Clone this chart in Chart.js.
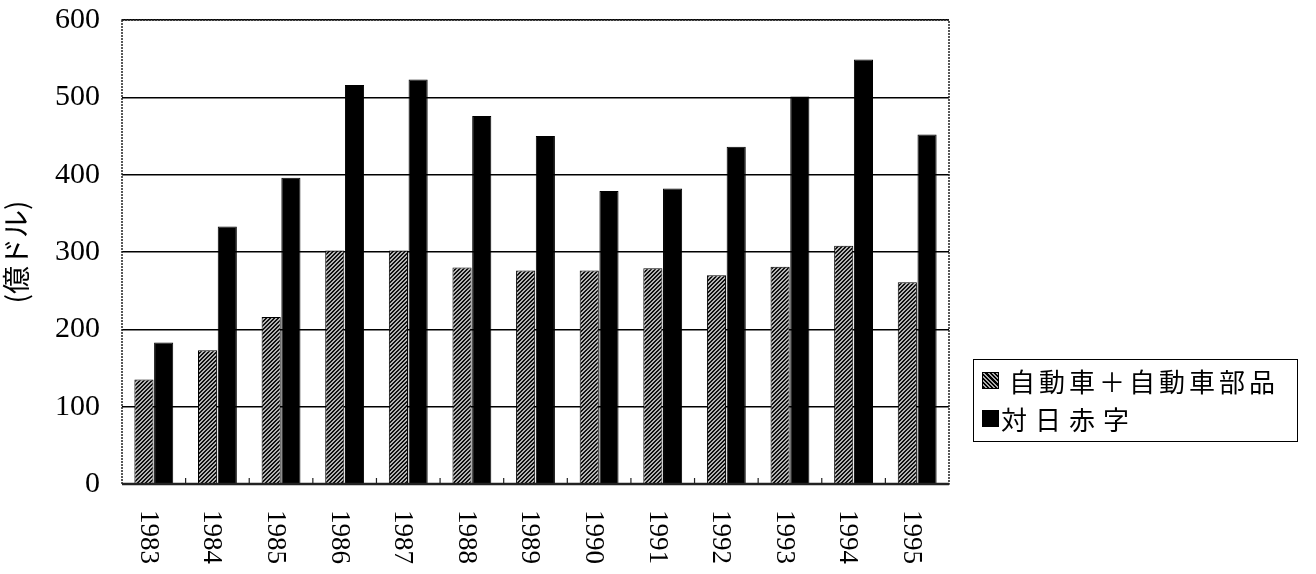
<!DOCTYPE html>
<html>
<head>
<meta charset="utf-8">
<script src="https://cdn.jsdelivr.net/npm/chart.js@4"></script>
<style>
    body { margin: 0; background: #fff; }
    #wrap { position: relative; width: 1316px; height: 574px; }
    #legendBox {
        position: absolute; left: 973px; top: 359px; width: 325px; height: 83px;
        border: 1px solid #000; box-sizing: border-box;
        font-family: "Noto Sans CJK JP", sans-serif; font-size: 26px; color: #000;
    }
    .row { position: absolute; left: 8px; display: flex; align-items: center; white-space: nowrap; }
    .sw { width: 15px; height: 15px; border: 1px solid #000; margin-right: 10px; letter-spacing: 0; }
    #sw0 { background: repeating-linear-gradient(45deg, #000 0 1.5px, #aaa 1.5px 3px); }
    #sw1 { background: #000; margin-right: 2px; }
</style>
</head>
<body>
<div id="wrap">
    <canvas id="myChart" width="1316" height="574"></canvas>
    <div id="legendBox"></div>
</div>
<script>
const years = ['1983', '1984', '1985', '1986', '1987', '1988', '1989',
    '1990', '1991', '1992', '1993', '1994', '1995'];
const carParts = [135, 173, 216, 302, 302, 280, 276, 276, 279, 270, 281, 308, 261];
const deficitJapan = [183, 333, 396, 516, 523, 476, 450, 379, 382, 436, 501, 549, 452];
const seriesNames = ['自動車＋自動車部品', '対日赤字'];
const yTicks = [0, 100, 200, 300, 400, 500, 600];
const yTitle = '(億ドル)';

// hatched fill for the grey bars
function makeHatch() {
    const c = document.createElement('canvas');
    c.width = 4; c.height = 4;
    const g = c.getContext('2d');
    g.fillStyle = '#b4b4b4';
    g.fillRect(0, 0, 4, 4);
    g.fillStyle = '#111';
    for (let i = 0; i < 4; i++) {
        g.fillRect(i, 3 - i, 1, 1);
        g.fillRect((i + 1) % 4, 3 - i, 1, 1);
    }
    return g.createPattern(c, 'repeat');
}

// legend
const legendBox = document.getElementById('legendBox');
seriesNames.forEach((name, i) => {
    const row = document.createElement('div');
    row.className = 'row';
    row.style.top = (i === 0 ? 2 : 40) + 'px';
    row.innerHTML = '<span class="sw" id="sw' + i + '"></span><span style="letter-spacing:' +
        (i === 0 ? 4 : 8) + 'px">' + name + '</span>';
    legendBox.appendChild(row);
});

// plot frame, inner x ticks and rotated year labels
const framePlugin = {
    id: 'frame',
    afterDraw(chart) {
        const ctx = chart.ctx;
        const a = chart.chartArea;
        const x = chart.scales.x;
        ctx.save();
        ctx.strokeStyle = '#222';
        ctx.lineWidth = 1.5;
        ctx.setLineDash([2, 1]);
        ctx.strokeRect(a.left, a.top, a.right - a.left, a.bottom - a.top);
        ctx.setLineDash([]);
        ctx.lineWidth = 2.5;
        ctx.beginPath();
        ctx.moveTo(a.left, a.bottom);
        ctx.lineTo(a.right, a.bottom);
        ctx.stroke();
        ctx.lineWidth = 1.2;
        const step = (a.right - a.left) / years.length;
        for (let i = 1; i < years.length; i++) {
            const px = x.getPixelForValue(i) - step / 2;
            ctx.beginPath();
            ctx.moveTo(px, a.bottom);
            ctx.lineTo(px, a.bottom - 6);
            ctx.stroke();
        }
        ctx.fillStyle = '#000';
        ctx.font = '27px "Liberation Serif", serif';
        ctx.textAlign = 'left';
        ctx.textBaseline = 'middle';
        years.forEach((yr, i) => {
            ctx.save();
            ctx.translate(x.getPixelForValue(i) - 6, a.bottom + 26);
            ctx.rotate(Math.PI / 2);
            ctx.fillText(yr, 0, 0);
            ctx.restore();
        });
        ctx.restore();
    }
};

const ctx = document.getElementById('myChart');
const hatch = makeHatch();

new Chart(ctx, {
    type: 'bar',
    data: {
        labels: years,
        datasets: [
            {
                label: seriesNames[0],
                data: carParts,
                backgroundColor: hatch,
                borderColor: '#000',
                borderWidth: 1,
                barPercentage: 0.97,
                categoryPercentage: 0.62,
            },
            {
                label: seriesNames[1],
                data: deficitJapan,
                backgroundColor: '#000',
                borderColor: '#000',
                borderWidth: 1,
                barPercentage: 0.97,
                categoryPercentage: 0.62,
            },
        ]
    },
    options: {
        responsive: false,
        animation: false,
        layout: { padding: { top: 20, right: 367, left: 0, bottom: 0 } },
        plugins: {
            legend: { display: false },
            tooltip: { enabled: false },
        },
        scales: {
            x: {
                grid: { display: false },
                border: { display: false },
                ticks: { display: false },
                afterFit(scale) { scale.height = 90; },
            },
            y: {
                min: 0,
                max: 600,
                afterBuildTicks(scale) { scale.ticks = yTicks.map(v => ({ value: v })); },
                grid: { color: '#000', lineWidth: 1.5, drawTicks: false },
                border: { display: false },
                ticks: {
                    color: '#000',
                    padding: 22,
                    font: { family: '"Liberation Serif", serif', size: 30 },
                },
                title: {
                    display: true,
                    text: yTitle,
                    color: '#000',
                    padding: { top: 0, bottom: 2 },
                    font: { family: '"Noto Sans CJK JP", sans-serif', size: 28 },
                },
                afterFit(scale) {
                    scale.width = 122;
                    scale.paddingTop = 0;
                    scale.paddingBottom = 0;
                },
            }
        }
    },
    plugins: [framePlugin]
});
</script>
</body>
</html>
